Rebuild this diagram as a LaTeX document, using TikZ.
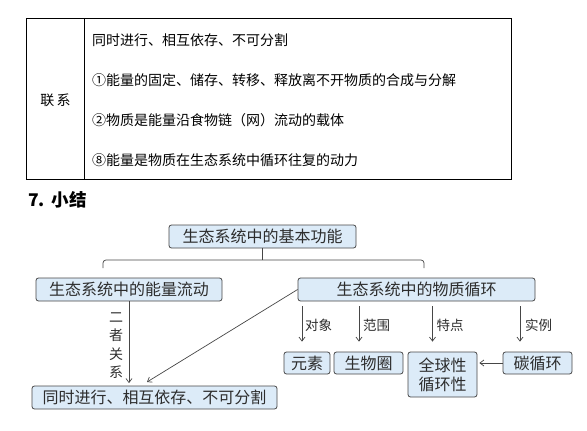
\documentclass[tikz,border=0pt]{standalone}
\usepackage{fontspec}
\usepackage{xcolor}
\usetikzlibrary{positioning,arrows.meta}
\newfontfamily\cjk{Noto Sans CJK SC}
\definecolor{boxfill}{RGB}{220,235,248}
\definecolor{boxline}{RGB}{70,70,70}
\definecolor{inkgray}{RGB}{45,45,45}

\tikzset{
  fbox/.style={draw=boxline, fill=boxfill, rounded corners=2.5pt, line width=0.8pt,
    inner sep=0pt, text=inkgray, font=\cjk\fontsize{16}{19}\selectfont, align=center},
  tabtext/.style={anchor=west, inner sep=0pt, font=\cjk\fontsize{14}{16}\selectfont},
  edgelabel/.style={anchor=west, inner sep=0pt, text=inkgray, font=\cjk\fontsize{13.5}{16}\selectfont},
  arr/.style={draw=boxline, line width=0.7pt, -{Straight Barb[length=4pt,width=6pt]}},
}

\begin{document}
\begin{tikzpicture}[x=1pt,y=-1pt]
  \useasboundingbox (0,0) rectangle (587,431);

  % table: 联系
  \draw[line width=0.8pt] (26,18) rectangle (511,179);
  \draw[line width=0.8pt] (84,18) -- (84,179);
  \node[inner sep=0pt, font=\cjk\fontsize{14}{16}\selectfont] (lianxi) at (55.5,100) {联\,系};
  \node[tabtext] (row1) at (92,40) {同时进行、相互依存、不可分割};
  \node[tabtext] (row2) at (92,80) {①能量的固定、储存、转移、释放离不开物质的合成与分解};
  \node[tabtext] (row3) at (92,120) {②物质是能量沿食物链（网）流动的载体};
  \node[tabtext] (row4) at (92,160) {⑧能量是物质在生态系统中循环往复的动力};

  % heading
  \node[anchor=west, inner sep=0pt, font=\cjk\bfseries\fontsize{17.5}{20}\selectfont] (head) at (28,200) {7.\ \,小结};

  % level 0: 基本功能
  \node[fbox, minimum width=187pt, minimum height=23pt] (func) at (262.5,236.5) {生态系统中的基本功能};

  % level 1: 能量流动 + 物质循环
  \node[fbox, minimum width=186pt, minimum height=23pt] (energy) at (129,289.5) {生态系统中的能量流动};
  \node[fbox, minimum width=237pt, minimum height=23pt] (matter) at (416.5,289.5) {生态系统中的物质循环};

  % bracket
  \coordinate (brl) at (103,268);
  \coordinate (brr) at (424,268);
  \draw[boxline, line width=0.7pt] (func.south) -- (func.south |- 0,260);
  \draw[boxline, line width=0.7pt, rounded corners=3pt] (brl) -- (brl |- 0,260) -- (brr |- 0,260) -- (brr);

  % relation of the two
  \node[fbox, minimum width=245pt, minimum height=23pt] (together) at (154.5,397.5) {同时进行、相互依存、不可分割};
  \coordinate (hit) at (147,382);
  \draw[arr, shorten >=2.5pt] (energy.south) -- (energy.south |- together.north);
  \draw[arr] (matter.west) -- (hit);
  \node[inner sep=0pt, align=center, text=inkgray, font=\cjk\fontsize{14}{18.5}\selectfont] (twolab) at (116,345.5) {二\\者\\关\\系};

  % level 2: 物质循环 details
  \node[fbox, minimum width=46pt, minimum height=22pt] (elem) at (307,363) {元素};
  \node[fbox, minimum width=69pt, minimum height=22pt] (bio) at (368.5,363) {生物圈};
  \node[fbox, minimum width=69pt, minimum height=45pt] (glob) at (442.5,374.5) {全球性\\循环性};
  \node[fbox, minimum width=69pt, minimum height=22pt] (carbon) at (537.5,363) {碳循环};

  \draw[arr] ([xshift=-5pt,yshift=-5pt]matter.south -| elem.north) -- ([xshift=-5pt,yshift=10pt]elem.north);
  \draw[arr] ([xshift=-9.5pt,yshift=-5pt]matter.south -| bio.north) -- ([xshift=-9.5pt,yshift=10pt]bio.north);
  \draw[arr] ([xshift=-10pt,yshift=-5pt]matter.south -| glob.north) -- ([xshift=-10pt,yshift=10pt]glob.north);
  \draw[arr] ([xshift=-17.5pt,yshift=-5pt]matter.south -| carbon.north) -- ([xshift=-17.5pt,yshift=10pt]carbon.north);
  \node[edgelabel] (lab1) at (305,325) {对象};
  \node[edgelabel] (lab2) at (363,325) {范围};
  \node[edgelabel] (lab3) at (436.5,325) {特点};
  \node[edgelabel] (lab4) at (525,325) {实例};

  \draw[arr, shorten >=2pt] (carbon.west) -- (carbon.west -| glob.east);
\end{tikzpicture}
\end{document}
